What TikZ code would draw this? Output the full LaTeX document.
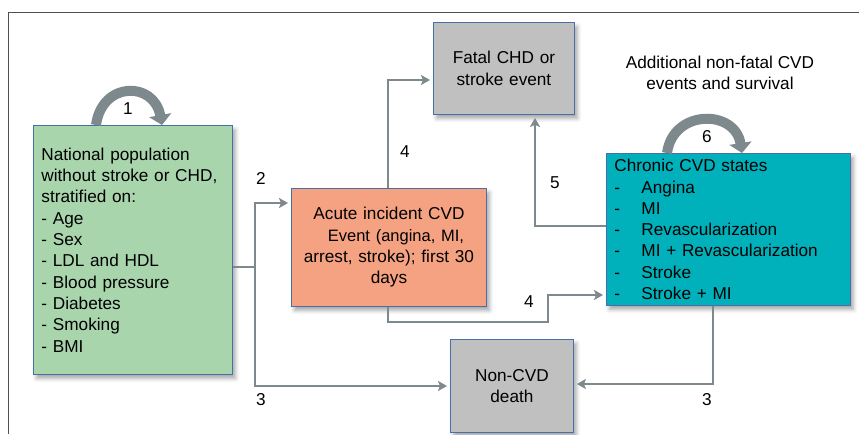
\documentclass[tikz,border=0pt]{standalone}
\usepackage{fontspec}
\setmainfont{Liberation Sans}
\usetikzlibrary{arrows.meta,shadows.blur,calc}
\definecolor{greenc}{HTML}{A9D5AD}
\definecolor{orangec}{HTML}{F5A282}
\definecolor{greyc}{HTML}{C0C0C0}
\definecolor{tealc}{HTML}{00B0BA}
\definecolor{edgec}{HTML}{4A6EA8}
\definecolor{arrowc}{HTML}{7E898E}
\definecolor{framec}{HTML}{505050}
\newcommand{\itm}{\makebox[27pt][l]{-}}
\begin{document}
\begin{tikzpicture}[x=1pt,y=-1pt,
  txt/.style={font=\fontsize{17.2pt}{21.3pt}\selectfont},
  box/.style={draw=edgec, line width=0.9pt, rectangle, anchor=north west, txt, inner sep=0pt,
    blur shadow={shadow xshift=3pt, shadow yshift=-4pt, shadow blur radius=4pt, shadow opacity=35}},
  conn/.style={draw=arrowc, line width=2pt},
  arr/.style={conn, -{Stealth[length=9pt,width=10pt,inset=2pt]}, shorten >=3pt},
  looparr/.style={draw=arrowc, line width=10pt, -{Triangle[length=10pt,width=22pt]}},
  lbl/.style={txt, inner sep=0pt}]
\useasboundingbox (0,0) rectangle (859,434);
\draw[framec, line width=1pt] (8,434) -- (8,12) -- (859,12);

\node[box, fill=greenc, minimum width=199pt, minimum height=249pt, text width=183pt, align=left] (pop) at (33,125)
  {National population\\without stroke or CHD,\\stratified on:\\- Age\\- Sex\\- LDL and HDL\\- Blood pressure\\- Diabetes\\- Smoking\\- BMI};
\node[box, fill=orangec, minimum width=195pt, minimum height=118pt, text width=185pt, align=center] (acute) at (291,188)
  {Acute incident CVD\\\hspace*{14pt}{\fontsize{16.5pt}{21.3pt}\selectfont Event (angina, MI,}\\arrest, stroke); first 30\\days};
\node[box, fill=greyc, minimum width=141pt, minimum height=92pt, text width=131pt, align=center] (fatal) at (433,22)
  {Fatal CHD or\\stroke event};
\node[box, fill=greyc, minimum width=123pt, minimum height=93pt, text width=113pt, align=center] (noncvd) at (450,339)
  {Non-CVD\\death};
\node[box, fill=tealc, minimum width=244pt, minimum height=152pt, text width=228pt, align=left] (chronic) at (606,153)
  {Chronic CVD states\\\itm Angina\\\itm MI\\\itm Revascularization\\\itm MI + Revascularization\\\itm Stroke\\\itm Stroke + MI};
\node[lbl, align=center] (addl) at (720,73) {Additional non-fatal CVD\\events and survival};

% self loops
\coordinate (l1a) at ($(pop.north west)+(63,0)$);
\coordinate (l1b) at ($(pop.north west)+(129,0)$);
\draw[looparr] (l1a) .. controls ($(l1a)+(6,-44)$) and ($(l1b)+(-8,-44)$) .. (l1b);
\node[lbl] (n1) at (128,109) {1};
\coordinate (l6a) at ($(chronic.north west)+(61,0)$);
\coordinate (l6b) at ($(chronic.north west)+(136,0)$);
\draw[looparr] (l6a) .. controls ($(l6a)+(6,-44)$) and ($(l6b)+(-7,-44)$) .. (l6b);
\node[lbl] (n6) at (707,137) {6};

% connectors
\coordinate (j) at (255,267);
\coordinate (jtop) at (255,203);
\coordinate (jbot) at (255,386);
\draw[conn] (pop.east |- j) -- (j);
\draw[arr] (j) -- (jtop) -- (acute.west |- jtop);
\draw[arr] (j) -- (jbot) -- (noncvd.west |- jbot);
\node[lbl] (n2) at (261,178) {2};
\node[lbl] (n3a) at (261,400) {3};

\coordinate (o4) at (388,80);
\draw[arr] (acute.north -| o4) -- (o4) -- (fatal.west |- o4);
\node[lbl] (n4a) at (405,152) {4};

\coordinate (b1) at (388,322);
\coordinate (b2) at (548,322);
\coordinate (b3) at (548,295);
\draw[arr] (acute.south -| b1) -- (b1) -- (b2) -- (b3) -- (chronic.west |- b3);
\node[lbl] (n4b) at (529,302) {4};

\coordinate (c5) at (535,226);
\draw[arr] (chronic.west |- c5) -- (c5) -- (fatal.south -| c5);
\node[lbl] (n5) at (555,183) {5};

\coordinate (c3) at (713,384);
\draw[arr] (chronic.south -| c3) -- (c3) -- (noncvd.east |- c3);
\node[lbl] (n3b) at (707,400) {3};
\end{tikzpicture}
\end{document}
